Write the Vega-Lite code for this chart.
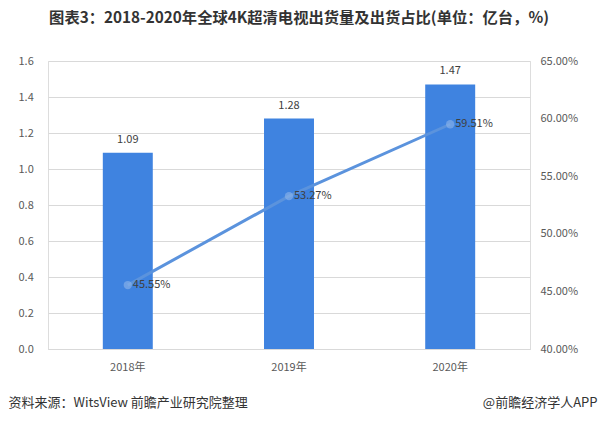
{
  "$schema": "https://vega.github.io/schema/vega-lite/v6.json",
  "width": 482,
  "height": 288,
  "autosize": {"type": "none"},
  "padding": {"left": 48, "top": 61, "right": 70, "bottom": 72},
  "background": "white",
  "title": {
    "text": "图表3：2018-2020年全球4K超清电视出货量及出货占比(单位：亿台，%)",
    "font": "Noto Sans CJK SC",
    "fontSize": 15.3,
    "fontWeight": "bold",
    "color": "#333333",
    "anchor": "middle",
    "dx": 10,
    "offset": 29
  },
  "data": {
    "values": [
      {"year": "2018年", "shipments": 1.09, "share": 0.4555},
      {"year": "2019年", "shipments": 1.28, "share": 0.5327},
      {"year": "2020年", "shipments": 1.47, "share": 0.5951}
    ]
  },
  "encoding": {
    "x": {
      "field": "year",
      "type": "nominal",
      "sort": null,
      "scale": {"paddingInner": 0.69, "paddingOuter": 0.34},
      "axis": {
        "title": "资料来源：WitsView 前瞻产业研究院整理",
        "titleFont": "Noto Sans CJK SC",
        "titleFontSize": 13,
        "titleFontWeight": "normal",
        "titleColor": "#333333",
        "titleAnchor": "start",
        "titleAlign": "left",
        "titleX": -40,
        "titleY": 57,
        "titleBaseline": "alphabetic",
        "labelAngle": 0,
        "labelFont": "Noto Sans CJK SC",
        "labelFontSize": 11,
        "labelColor": "#595959",
        "labelPadding": 12,
        "ticks": false,
        "domainColor": "#d9d9d9"
      }
    }
  },
  "layer": [
    {
      "encoding": {
        "y": {
          "field": "shipments",
          "type": "quantitative",
          "scale": {"domain": [0, 1.6]},
          "axis": {
            "title": null,
            "values": [0, 0.2, 0.4, 0.6, 0.8, 1.0, 1.2, 1.4, 1.6],
            "format": ".1f",
            "labelFont": "Noto Sans CJK SC",
            "labelFontSize": 11,
            "labelColor": "#595959",
            "labelAlign": "left",
            "labelPadding": 30,
            "ticks": false,
            "domain": false,
            "gridColor": "#d9d9d9"
          }
        }
      },
      "layer": [
        {"mark": {"type": "bar", "color": "#3F83E0"}},
        {
          "mark": {"type": "text", "baseline": "bottom", "dy": -8, "font": "Noto Sans CJK SC", "fontSize": 11, "color": "#404040"},
          "encoding": {"text": {"field": "shipments", "type": "quantitative", "format": ".2f"}}
        }
      ]
    },
    {
      "encoding": {
        "y": {
          "field": "share",
          "type": "quantitative",
          "scale": {"domain": [0.4, 0.65]},
          "axis": {
            "orient": "right",
            "title": "@前瞻经济学人APP",
            "titleFont": "Noto Sans CJK SC",
            "titleFontSize": 13,
            "titleFontWeight": "normal",
            "titleColor": "#333333",
            "titleAngle": 0,
            "titleAlign": "right",
            "titleBaseline": "alphabetic",
            "titleX": 67,
            "titleY": 345,
            "values": [0.4, 0.45, 0.5, 0.55, 0.6, 0.65],
            "format": ".2%",
            "labelFont": "Noto Sans CJK SC",
            "labelFontSize": 11,
            "labelColor": "#595959",
            "labelPadding": 10,
            "ticks": false,
            "domain": false,
            "grid": false
          }
        }
      },
      "layer": [
        {"mark": {"type": "line", "color": "#5B93DD", "strokeWidth": 3, "point": {"filled": true, "size": 70, "color": "#8FB6EA", "opacity": 0.6}}},
        {
          "mark": {"type": "text", "align": "left", "baseline": "middle", "dx": 5, "font": "Noto Sans CJK SC", "fontSize": 11, "color": "#404040"},
          "encoding": {"text": {"field": "share", "type": "quantitative", "format": ".2%"}}
        }
      ]
    }
  ],
  "resolve": {"scale": {"y": "independent"}}
}
